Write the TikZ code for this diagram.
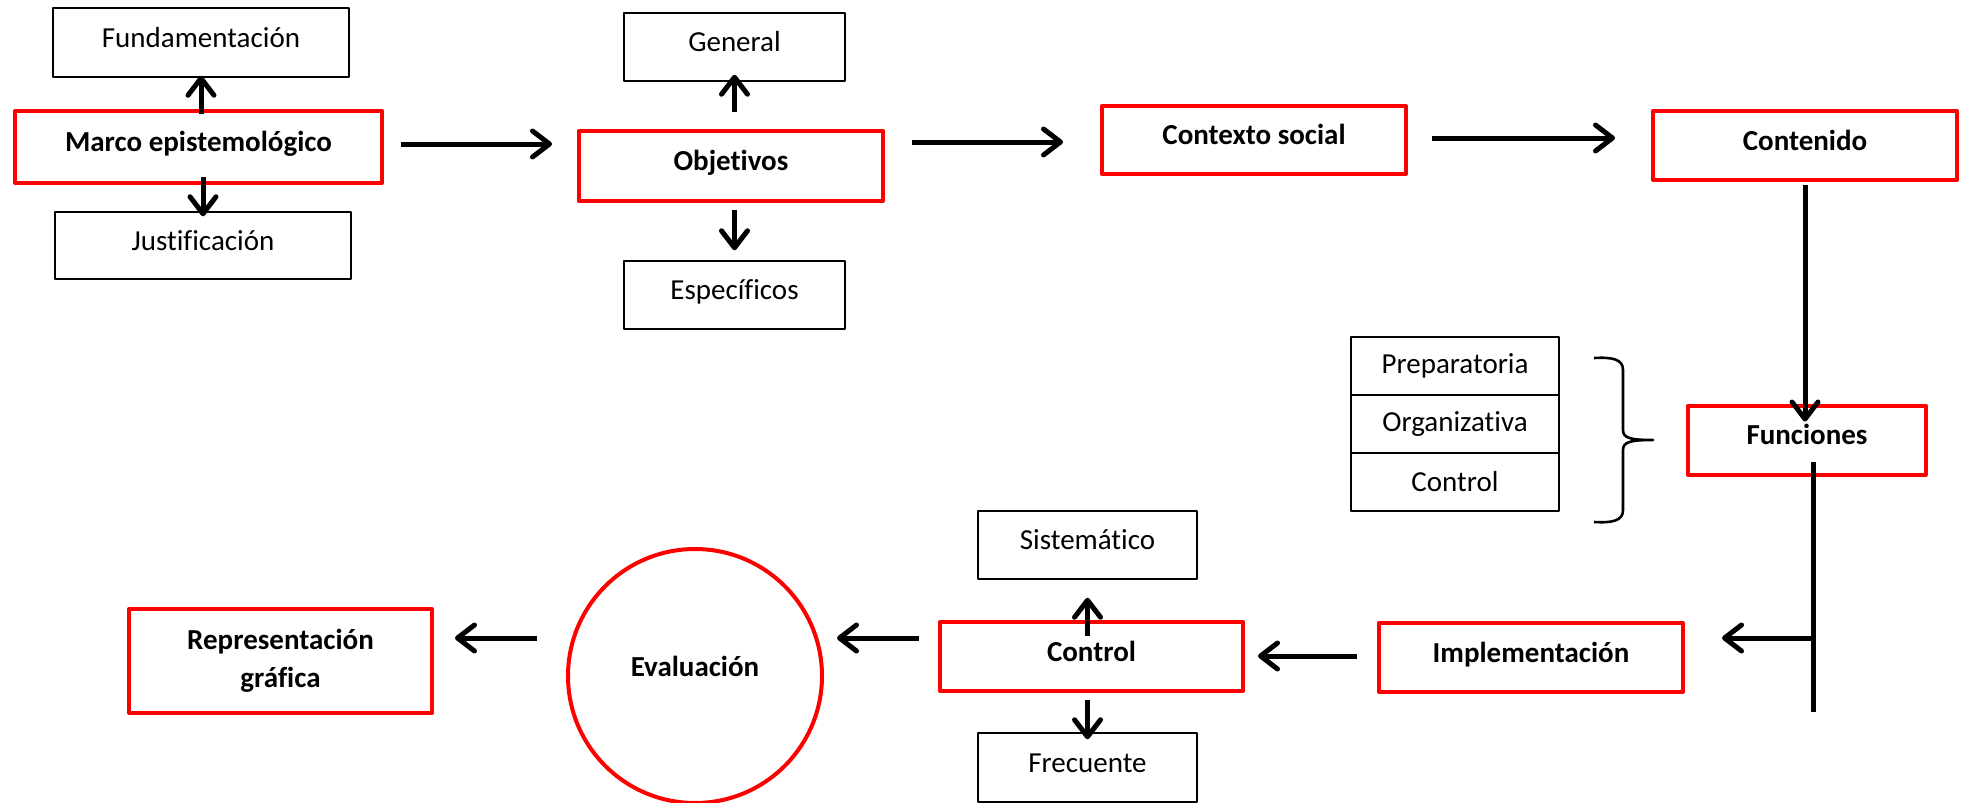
\documentclass[tikz,border=0pt]{standalone}
\usepackage{fontspec}
\setmainfont{Carlito}[Ligatures=NoCommon]
\usetikzlibrary{arrows.meta}
\tikzset{
  redbox/.style={draw=red, line width=2pt, align=center, font=\fontsize{14.5}{19}\selectfont\bfseries},
  subbox/.style={draw, line width=0.75pt, minimum width=110.5pt, minimum height=34pt},
  cell/.style={draw, line width=0.75pt, minimum width=104pt, minimum height=29pt},
  lift/.style={text height=10.5pt, text depth=6pt},
  arr/.style={line width=2.5pt, -{Straight Barb[length=8.5pt,width=13pt,round]}},
}
\begin{document}
\begin{tikzpicture}[x=0.5pt, y=-0.5pt, font=\fontsize{14.5}{19}\selectfont, line join=round]
 \useasboundingbox (0,0) rectangle (1966,803);
 \node[redbox, lift, minimum width=183.5pt, minimum height=36pt] (marco) at (198.5,147) {Marco epistemológico};
 \node[subbox, lift, minimum width=148pt, minimum height=34.5pt] (fund) at (201,42.5) {Fundamentación};
 \node[subbox, lift, minimum width=148pt, minimum height=33.5pt] (just) at (203,245.5) {Justificación};
 \node[redbox, lift, minimum width=152pt, minimum height=35pt] (obj) at (731,166) {Objetivos};
 \node[subbox, lift] (gen) at (734.5,47) {General};
 \node[subbox, lift] (esp) at (734.5,295) {Específicos};
 \node[redbox, lift, minimum width=152pt, minimum height=34pt] (ctx) at (1254,140) {Contexto social};
 \node[redbox, lift, minimum width=152pt, minimum height=34.5pt] (cont) at (1805,145.5) {Contenido};
 \node[redbox, lift, minimum width=119pt, minimum height=34.5pt] (func) at (1807,440) {Funciones};
 \node[cell] (prep) at (1455,366) {Preparatoria};
 \node[cell] (org) at (1455,424) {Organizativa};
 \node[cell] (ctrl) at (1455,482) {Control};
 \node[redbox, lift, minimum width=152pt, minimum height=34.5pt] (impl) at (1531,657.5) {Implementación};
 \node[redbox, lift, minimum width=151.5pt, minimum height=34.5pt] (control) at (1091.5,656.5) {Control};
 \node[subbox, lift, minimum width=109.5pt] (sist) at (1087.5,545) {Sistemático};
 \node[subbox, lift, minimum width=109.5pt, minimum height=34.5pt] (frec) at (1087.5,767.5) {Frecuente};
 \node[redbox, circle, minimum size=127pt, inner sep=0pt, text height=10.5pt, text depth=10pt] (eval) at (695,676) {Evaluación};
 \node[redbox, minimum width=151.5pt, minimum height=52pt] (repr) at (280.5,661) {Representación\\gráfica};
 \draw[arr, shorten <=-2.5pt, shorten >=-1pt] (fund.south |- marco.north) -- (fund.south);
 \draw[arr, shorten <=-4pt, shorten >=-2.5pt] (just.north |- marco.south) -- (just.north);
 \draw[arr, shorten <=8.5pt, shorten >=12.5pt] ([yshift=1.5pt]marco.east) -- ([yshift=1.5pt]marco.east -| obj.west);
 \draw[arr, shorten <=8.5pt, shorten >=-3.5pt] (gen.south |- obj.north) -- (gen.south);
 \draw[arr, shorten <=3.5pt, shorten >=5pt] (esp.north |- obj.south) -- (esp.north);
 \draw[arr, shorten <=13.5pt, shorten >=18.5pt] ([yshift=12pt]obj.east) -- ([yshift=12pt]obj.east -| ctx.west);
 \draw[arr, shorten <=12pt, shorten >=18pt] ([yshift=1pt]ctx.east) -- ([yshift=1pt]ctx.east -| cont.west);
 \draw[arr, shorten <=1.5pt, shorten >=-9pt] (cont.south) -- (cont.south |- func.north);
 \draw[line width=2.5pt] ([xshift=3pt,yshift=7.25pt]func.south) coordinate (drop) -- ++(0,250);
 \coordinate (fork) at (drop |- 0,638);
 \draw[arr, shorten >=18.5pt] (fork) -- (fork -| impl.east);
 \draw[line width=1.3pt] (1594,358) .. controls (1612,357) and (1623,359) .. (1623,370) -- (1623,430) .. controls (1623,438) and (1630,440) .. (1653,440) .. controls (1630,440) and (1623,442) .. (1623,450) -- (1623,510) .. controls (1623,521) and (1612,523) .. (1594,522);
 \draw[arr, shorten <=10pt, shorten >=6.5pt] ([yshift=0.75pt]impl.west) -- ([yshift=0.75pt]impl.west -| control.east);
 \draw[arr, shorten <=-8pt, shorten >=9pt] (sist.south |- control.north) -- (sist.south);
 \draw[arr, shorten <=3.5pt, shorten >=-3.5pt] (frec.north |- control.south) -- (frec.north);
 \draw[arr, shorten <=9.5pt, shorten >=6.5pt] ([yshift=9.25pt]control.west) -- ([yshift=9.25pt]control.west -| eval.east);
 \draw[arr, shorten <=14.5pt, shorten >=10.5pt] ([yshift=19pt]eval.west) -- ([yshift=19pt]eval.west -| repr.east);
\end{tikzpicture}
\end{document}
